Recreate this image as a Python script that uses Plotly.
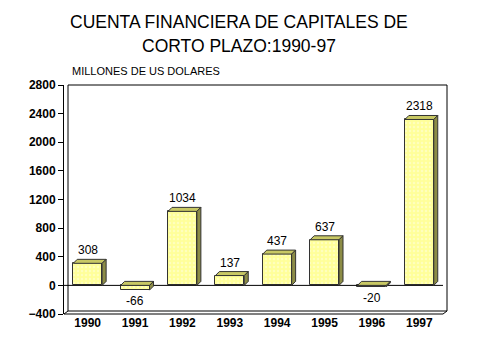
import plotly.graph_objects as go

years = ["1990", "1991", "1992", "1993", "1994", "1995", "1996", "1997"]
values = [308, -66, 1034, 137, 437, 637, -20, 2318]
y_ticks = [-400, 0, 400, 800, 1200, 1600, 2000, 2400, 2800]

W, H = 477, 357
ml, mr, mt, mb = 64, 34, 85, 43
pw = W - ml - mr
ph = H - mt - mb
yr = (-400, 2800)
xr = (-0.5, 7.5)
upx = (yr[1] - yr[0]) / ph  # data units per px (y)
xpx = (xr[1] - xr[0]) / pw   # data units per px (x)

bw = 0.61
dx = 4 * xpx
dy = 4 * upx

xs = list(range(len(years)))
FONT = "Liberation Sans, Arial"

fig = go.Figure()
fig.add_trace(go.Bar(
    x=xs, y=values, width=bw,
    marker=dict(color="#FFFF99", line=dict(color="#333333", width=1),
                pattern=dict(shape=".", fgcolor="#FFFFE0", bgcolor="#FFFF99", size=4, solidity=0.3)),
    hoverinfo="skip",
))

shapes = []
ox = 4 / pw
oy = 3 / ph
shapes.append(dict(type="path", xref="paper", yref="paper",
                   path=f"M {ox},{oy} L {ox},1 L {1+ox},1 L {1+ox},{oy} Z",
                   line=dict(color="black", width=1)))
shapes.append(dict(type="line", xref="paper", yref="paper", x0=0, y0=0, x1=1, y1=0,
                   line=dict(color="black", width=1)))
shapes.append(dict(type="line", xref="paper", yref="paper", x0=1, y0=0, x1=1 + ox, y1=oy,
                   line=dict(color="black", width=1)))
shapes.append(dict(type="line", xref="paper", yref="paper", x0=0, y0=0, x1=ox, y1=oy,
                   line=dict(color="black", width=1)))
shapes.append(dict(type="line", xref="paper", yref="y", x0=0, y0=0, x1=1, y1=0,
                   line=dict(color="black", width=1)))

annotations = []
for i, v in enumerate(values):
    l, r = i - bw / 2, i + bw / 2
    top = max(v, 0)
    bot = min(v, 0)
    shapes.append(dict(type="path", xref="x", yref="y",
                       path=f"M {l},{top} L {l+dx},{top+dy} L {r+dx},{top+dy} L {r},{top} Z",
                       fillcolor="#C8C864", line=dict(color="#333333", width=1), layer="above"))
    shapes.append(dict(type="path", xref="x", yref="y",
                       path=f"M {r},{top} L {r+dx},{top+dy} L {r+dx},{bot+dy} L {r},{bot} Z",
                       fillcolor="#8C8C46", line=dict(color="#333333", width=1), layer="above"))
    if v >= 0:
        annotations.append(dict(x=i, y=v, xref="x", yref="y", text=str(v), showarrow=False,
                                yanchor="bottom", yshift=4,
                                font=dict(family=FONT, size=12, color="black")))
    else:
        annotations.append(dict(x=i, y=v, xref="x", yref="y", text=str(v), showarrow=False,
                                yanchor="top", yshift=-2,
                                font=dict(family=FONT, size=12, color="black")))

annotations.append(dict(x=(70 - ml) / pw, y=(H - 79 - mb) / ph, xref="paper", yref="paper",
                        text="MILLONES DE US DOLARES",
                        showarrow=False, xanchor="left", yanchor="bottom",
                        font=dict(family=FONT, size=11, color="black")))
for line, ypix in (("CUENTA FINANCIERA DE CAPITALES DE", 22), ("CORTO PLAZO:1990-97", 46)):
    annotations.append(dict(x=(W / 2 - ml) / pw, y=(H - mb - ypix) / ph, xref="paper", yref="paper",
                            yanchor="middle", xanchor="center", text=line, showarrow=False,
                            font=dict(family=FONT, size=17.5, color="black")))

fig.update_layout(
    width=W, height=H,
    margin=dict(l=ml, r=mr, t=mt, b=mb),
    paper_bgcolor="white", plot_bgcolor="white",
    showlegend=False,
    bargap=0,
    xaxis=dict(range=list(xr), tickvals=xs, ticktext=years, showgrid=False, zeroline=False,
               showline=False, ticks="", ticklen=0,
               tickfont=dict(family=FONT, size=12, color="black", weight="bold")),
    yaxis=dict(range=list(yr), tickvals=y_ticks, showgrid=False, zeroline=False,
               showline=True, linecolor="black", linewidth=1, ticks="outside", ticklen=5,
               tickcolor="black",
               tickfont=dict(family=FONT, size=12, color="black", weight="bold")),
    shapes=shapes,
    annotations=annotations,
)

fig.write_html("out.html", config={"displayModeBar": False},
               post_script="document.body.style.margin='0';")
